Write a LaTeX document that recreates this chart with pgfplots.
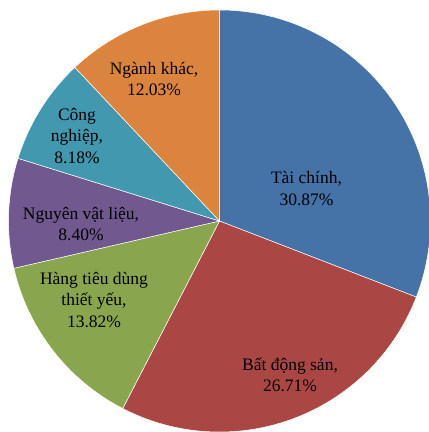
\documentclass[border=0pt]{standalone}
\usepackage{pgfplots}
\usepackage{pgfplotstable}
\usepackage{fontspec}
\setmainfont{Liberation Serif}
\pgfplotsset{compat=1.18}

\definecolor{slice0}{HTML}{4572A7}
\definecolor{slice1}{HTML}{AA4643}
\definecolor{slice2}{HTML}{89A54E}
\definecolor{slice3}{HTML}{71588F}
\definecolor{slice4}{HTML}{4198AF}
\definecolor{slice5}{HTML}{DB843D}

% sector shares in %, clockwise from 12 o'clock
\pgfplotstableread{
value
30.87
26.71
13.82
8.40
8.18
12.03
}\piedata

\begin{document}
\begin{tikzpicture}
\useasboundingbox (0,0) rectangle (429pt,432pt);
\begin{axis}[
    at={(0,0)}, anchor=south west,
    scale only axis, width=429pt, height=432pt,
    xmin=0, xmax=429, ymin=0, ymax=432,
    hide axis,
    nodes={font=\fontsize{17.5}{21.5}\selectfont, align=center},
]
\def\cx{219.5}
\def\cy{211}
\def\R{211pt}
\def\acc{0}
\pgfplotsforeachungrouped \i in {0,...,5}{
    \pgfplotstablegetelem{\i}{value}\of\piedata
    \pgfmathsetmacro\a{90-3.6*\acc}
    \pgfmathsetmacro\b{90-3.6*(\acc+\pgfplotsretval)}
    \pgfmathsetmacro\acc{\acc+\pgfplotsretval}
    \edef\cmd{\noexpand\fill[slice\i, draw=white, line width=0.5pt, line join=round]
        (axis cs:\cx,\cy) -- ++(\a:\R) arc[start angle=\a, end angle=\b, radius=\R] -- cycle;}
    \cmd
}
\node at (axis cs:306.5,243.5) {Tài chính,\\30.87\%};
\node at (axis cs:290,57) {Bất động sản,\\26.71\%};
\node at (axis cs:94,132) {Hàng tiêu dùng\\thiết yếu,\\13.82\%};
\node at (axis cs:81,208) {Nguyên vật liệu,\\8.40\%};
\node at (axis cs:77,296) {Công\\nghiệp,\\8.18\%};
\node at (axis cs:154,353) {Ngành khác,\\12.03\%};
\end{axis}
\end{tikzpicture}
\end{document}
